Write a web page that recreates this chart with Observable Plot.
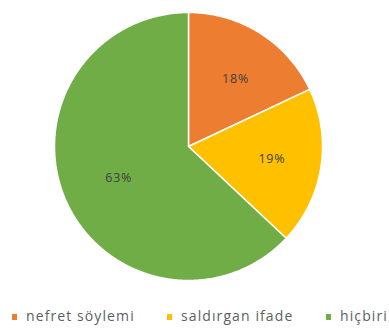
<!DOCTYPE html>
<html><head><meta charset="utf-8">
<script src="https://cdn.jsdelivr.net/npm/d3@7"></script>
<script src="https://cdn.jsdelivr.net/npm/@observablehq/plot@0.6"></script>
<style>
body{margin:0;background:#fff;width:389px;height:331px;overflow:hidden;font-family:"Open Sans",sans-serif;}
#legend{position:relative;height:39px;white-space:nowrap;font-size:14px;letter-spacing:1.1px;color:#5a5f66;}
.item{position:absolute;top:16px;line-height:16px;}
.sw{display:inline-block;width:5px;height:6px;margin-right:9px;vertical-align:middle;position:relative;top:0px;}
#chart svg text{letter-spacing:0.8px;}
</style></head><body>
<div id="chart"></div>
<div id="legend"></div>
<script>
const categories = ["nefret söylemi", "saldırgan ifade", "hiçbiri"];
const values = [18, 19, 63];
const labels = ["18%", "19%", "63%"];
const colors = ["#ED7D31", "#FFC000", "#70AD47"];

const arcs = d3.pie().sort(null).value(d => d)(values);
const poly = [];
arcs.forEach((a, i) => {
  poly.push({cat: categories[i], x: 0, y: 0});
  const n = Math.max(8, Math.ceil((a.endAngle - a.startAngle) / 0.01));
  for (let k = 0; k <= n; k++) {
    const t = a.startAngle + (a.endAngle - a.startAngle) * k / n;
    poly.push({cat: categories[i], x: Math.sin(t), y: Math.cos(t)});
  }
  poly.push({cat: categories[i], x: 0, y: 0});
});
const lab = arcs.map((a, i) => {
  const m = (a.startAngle + a.endAngle) / 2;
  const f = 0.6;
  return {label: labels[i], x: f * Math.sin(m), y: f * Math.cos(m)};
});

const plot = Plot.plot({
  width: 389, height: 292,
  marginLeft: 54, marginRight: 67, marginTop: 12, marginBottom: 12,
  x: {domain: [-1, 1], axis: null},
  y: {domain: [-1, 1], axis: null},
  color: {domain: categories, range: colors},
  style: {fontFamily: "Open Sans, sans-serif", background: "#fff"},
  marks: [
    Plot.line(poly, {x: "x", y: "y", z: "cat", fill: "cat", stroke: "#fff", strokeWidth: 1.5, curve: "linear"}),
    Plot.text(lab, {x: "x", y: "y", text: "label", fill: "#404040", fontSize: 12.5, dx: 4})
  ]
});
document.getElementById("chart").appendChild(plot);

const lg = document.getElementById("legend");
const lefts = [12, 167, 326];
categories.forEach((c, i) => {
  const d = document.createElement("span");
  d.className = "item";
  d.style.left = lefts[i] + "px";
  d.innerHTML = `<span class="sw" style="background:${colors[i]}"></span>${c}`;
  lg.appendChild(d);
});
</script></body></html>
